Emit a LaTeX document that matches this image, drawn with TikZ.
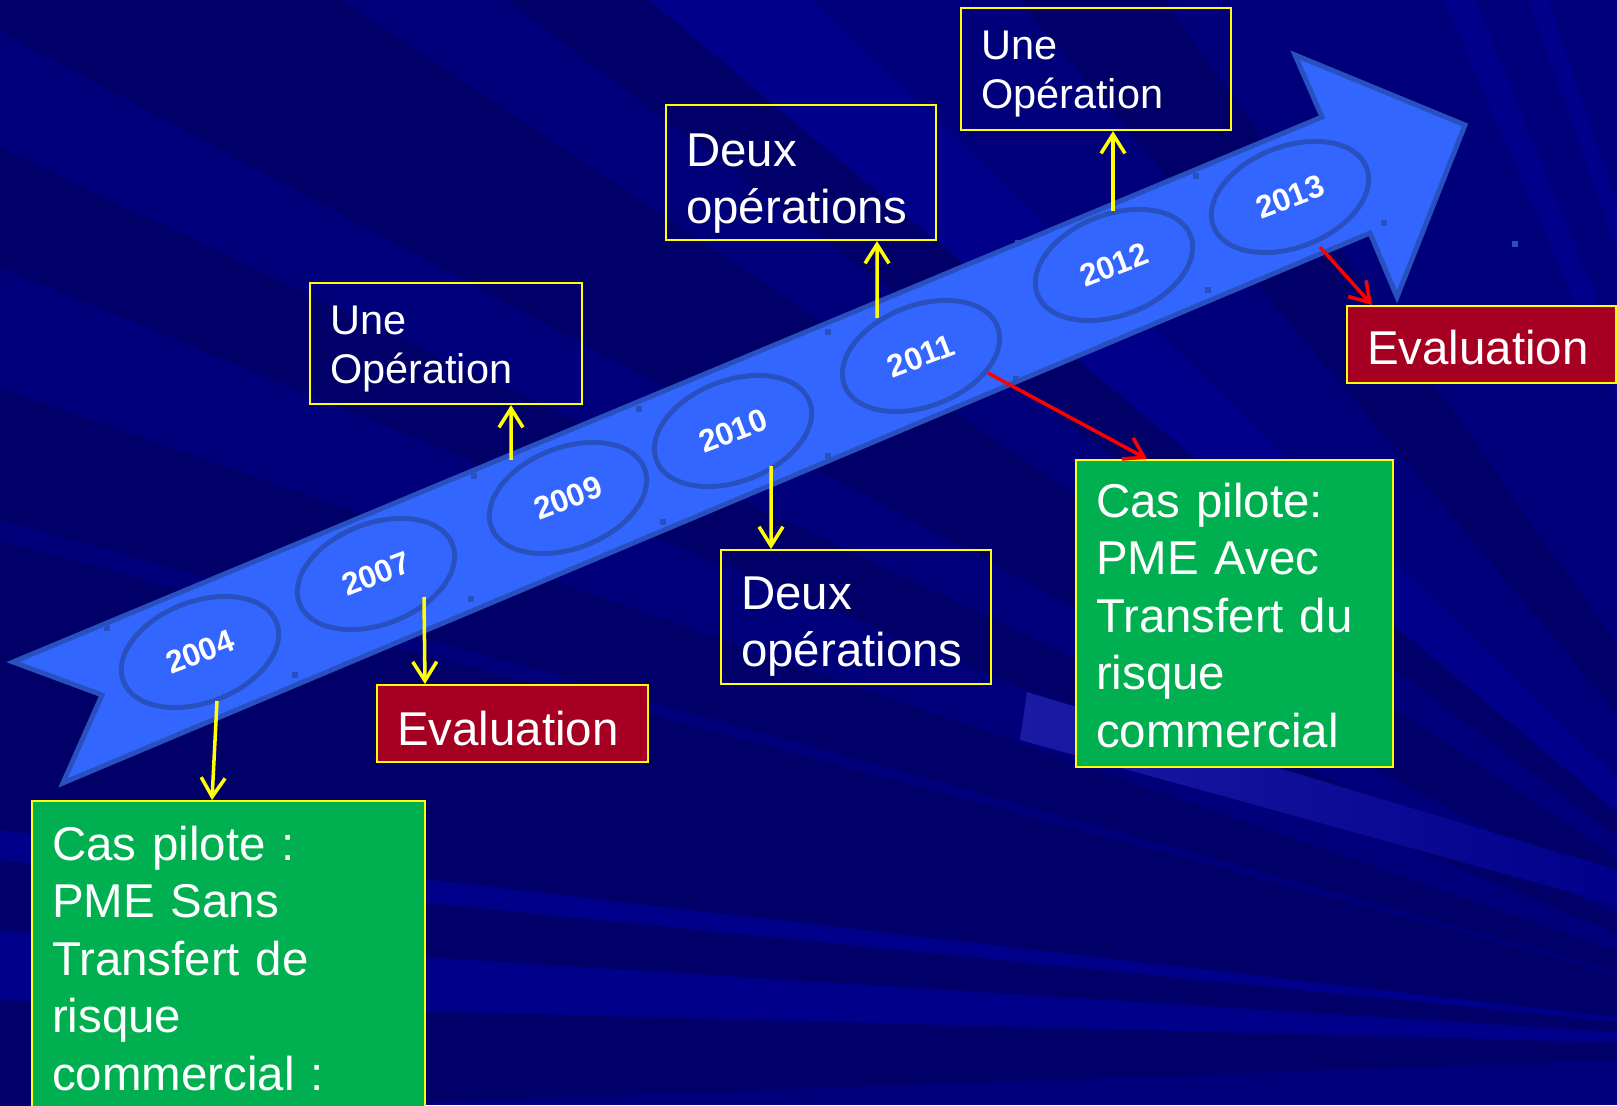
\documentclass[tikz,border=0pt]{standalone}
\usepackage{fontspec}
\setmainfont{Liberation Sans}
\usepackage{tikz}
\usetikzlibrary{shapes, positioning, calc, arrows.meta}
\definecolor{bgnavy}{RGB}{0,0,122}
\definecolor{bgdark}{RGB}{0,0,104}
\definecolor{bglight}{RGB}{0,0,138}
\definecolor{bgglow}{RGB}{26,26,165}
\definecolor{arrowblue}{RGB}{51,102,255}
\definecolor{arrowline}{RGB}{40,80,190}
\definecolor{boxyellow}{RGB}{255,255,0}
\definecolor{evalred}{RGB}{165,0,33}
\definecolor{pilotgreen}{RGB}{0,176,80}
\newcommand{\boxfont}{\fontsize{13.5pt}{16.4pt}\selectfont}
\newcommand{\opfont}{\fontsize{11.8pt}{14.2pt}\selectfont}
\newcommand{\yearfont}{\fontsize{9pt}{10pt}\selectfont\bfseries}

\begin{document}
\begin{tikzpicture}[yearnode/.style={ellipse, 
      draw=arrowline, 
      line width=1.4pt, 
      fill=arrowblue, 
      minimum width=1.64cm, 
      minimum height=1.01cm, 
      inner sep=0pt, 
      rotate=21, 
      text=white, 
      font=\yearfont},
    textbox/.style={draw=boxyellow, 
      line width=0.6pt, 
      text=white, 
      align=left, 
      anchor=north west, 
      inner xsep=0.2cm, 
      inner ysep=0pt, 
      text width=#1},
    yarrow/.style={draw=boxyellow, 
      line width=1pt, 
      -{Straight Barb[length=0.19cm, width=0.24cm]}},
    rarrow/.style={yarrow, draw=red}]

  \useasboundingbox (0,0) rectangle (16.17,11.05);
  \clip (0,0) rectangle (16.17,11.05);

  \fill[bgnavy] (0,0) rectangle (16.17,11.05);
  \coordinate (vp) at (19,0.55);
  \foreach \a/\b/\c in {146/151.8/bgdark, 154.6/157.6/bgdark, 
    160.8/164.4/bgdark, 165/173.4/bgdark, 173.4/174.3/bglight, 
    174.3/176.4/bgdark, 176.4/178.5/bglight, 178.5/182/bgdark, 
    136/140/bglight, 140/143/bgdark, 125/130/bgdark, 
    112/113.5/bglight, 108.5/109.5/bglight, 100/105/bgdark}
    \fill[\c] (vp) -- ([shift={(\a:30)}]vp) -- ([shift={(\b:30)}]vp) -- cycle;
  \shade[left color=bgglow, right color=bglight] 
    (10.27,4.13) -- (16.17,2.35) -- (16.17,2.0) -- (10.20,3.65) -- cycle;

  \filldraw[fill=arrowblue, draw=arrowline, line width=1.4pt] 
    (0.13,4.43) -- (13.22,9.88) -- (12.95,10.50) -- (14.65,9.80) 
    -- (13.97,8.08) -- (13.70,8.72) -- (0.63,3.22) -- (1.02,4.10) -- cycle;

  \foreach \x/\y in {1.07/4.77, 2.95/4.30, 4.71/5.06, 4.74/6.29, 
    6.39/6.96, 6.63/5.83, 8.28/7.73, 8.28/6.49, 10.18/8.62, 
    10.16/7.26, 11.96/9.29, 12.08/8.15, 13.84/8.82, 15.15/8.61}
    \fill[arrowline] (\x-0.03,\y-0.03) rectangle ++(0.06,0.06);

  \node [yearnode] (y2004) at (2.00,4.53) {2004};
  \node [yearnode] (y2007) at (3.76,5.31) {2007};
  \node [yearnode] (y2009) at (5.68,6.07) {2009};
  \node [yearnode] (y2010) at (7.33,6.74) {2010};
  \node [yearnode] (y2011) at (9.21,7.49) {2011};
  \node [yearnode] (y2012) at (11.14,8.40) {2012};
  \node [yearnode] (y2013) at (12.90,9.08) {2013};

  \node [textbox=2.32cm, 
    text height=0.51cm, 
    text depth=0.70cm, 
    font=\opfont] (une1) at (3.09,8.23) {Une\\Opération};

  \node [textbox=2.30cm, 
    text height=0.61cm, 
    text depth=0.74cm, 
    font=\boxfont] (deux1) at (6.65,10.01) {Deux\\opérations};

  \node [textbox=2.30cm, 
    text height=0.51cm, 
    text depth=0.71cm, 
    font=\opfont] (une2) at (9.60,10.98) {Une\\Opération};

  \node [textbox=2.31cm, 
    fill=evalred, 
    text height=0.60cm, 
    text depth=0.17cm, 
    font=\boxfont] (eval1) at (3.76,4.21) {Evaluation};

  \node [textbox=2.30cm, 
    text height=0.59cm, 
    text depth=0.75cm, 
    font=\boxfont] (deux2) at (7.20,5.56) {Deux\\opérations};

  \node [textbox=2.29cm, 
    fill=evalred, 
    text height=0.58cm, 
    text depth=0.19cm, 
    font=\boxfont] (eval2) at (13.46,8.00) {Evaluation};

  \node [textbox=2.77cm, 
    fill=pilotgreen, 
    text height=0.57cm, 
    text depth=2.50cm, 
    font=\boxfont] (pilot2) at (10.75,6.46) 
    {Cas pilote:\\PME Avec\\Transfert du\\risque\\commercial};

  \node [textbox=3.53cm, 
    fill=pilotgreen, 
    text height=0.59cm, 
    text depth=2.65cm, 
    font=\boxfont] (pilot1) at (0.31,3.05) 
    {Cas pilote :\\PME Sans\\Transfert de\\risque\\commercial :};

  \draw[yarrow] ([shift={(0.17,-0.49)}]y2004.center) -- ([xshift=1.81cm]pilot1.north west);
  \draw[yarrow] ([shift={(0.48,-0.23)}]y2007.center) -- ([xshift=0.49cm]eval1.north west);
  \draw[yarrow] ([shift={(-0.57,0.38)}]y2009.center) -- ([xshift=2.02cm]une1.south west);
  \draw[yarrow] ([shift={(0.38,-0.35)}]y2010.center) -- ([xshift=0.51cm]deux2.north west);
  \draw[yarrow] ([shift={(-0.44,0.38)}]y2011.center) -- ([xshift=2.12cm]deux1.south west);
  \draw[rarrow] ([shift={(0.67,-0.17)}]y2011.center) -- ([xshift=0.72cm]pilot2.north west);
  \draw[yarrow] ([shift={(-0.01,0.54)}]y2012.center) -- ([xshift=1.53cm]une2.south west);
  \draw[rarrow] ([shift={(0.30,-0.50)}]y2013.center) -- ([xshift=0.26cm]eval2.north west);

\end{tikzpicture}
\end{document}
